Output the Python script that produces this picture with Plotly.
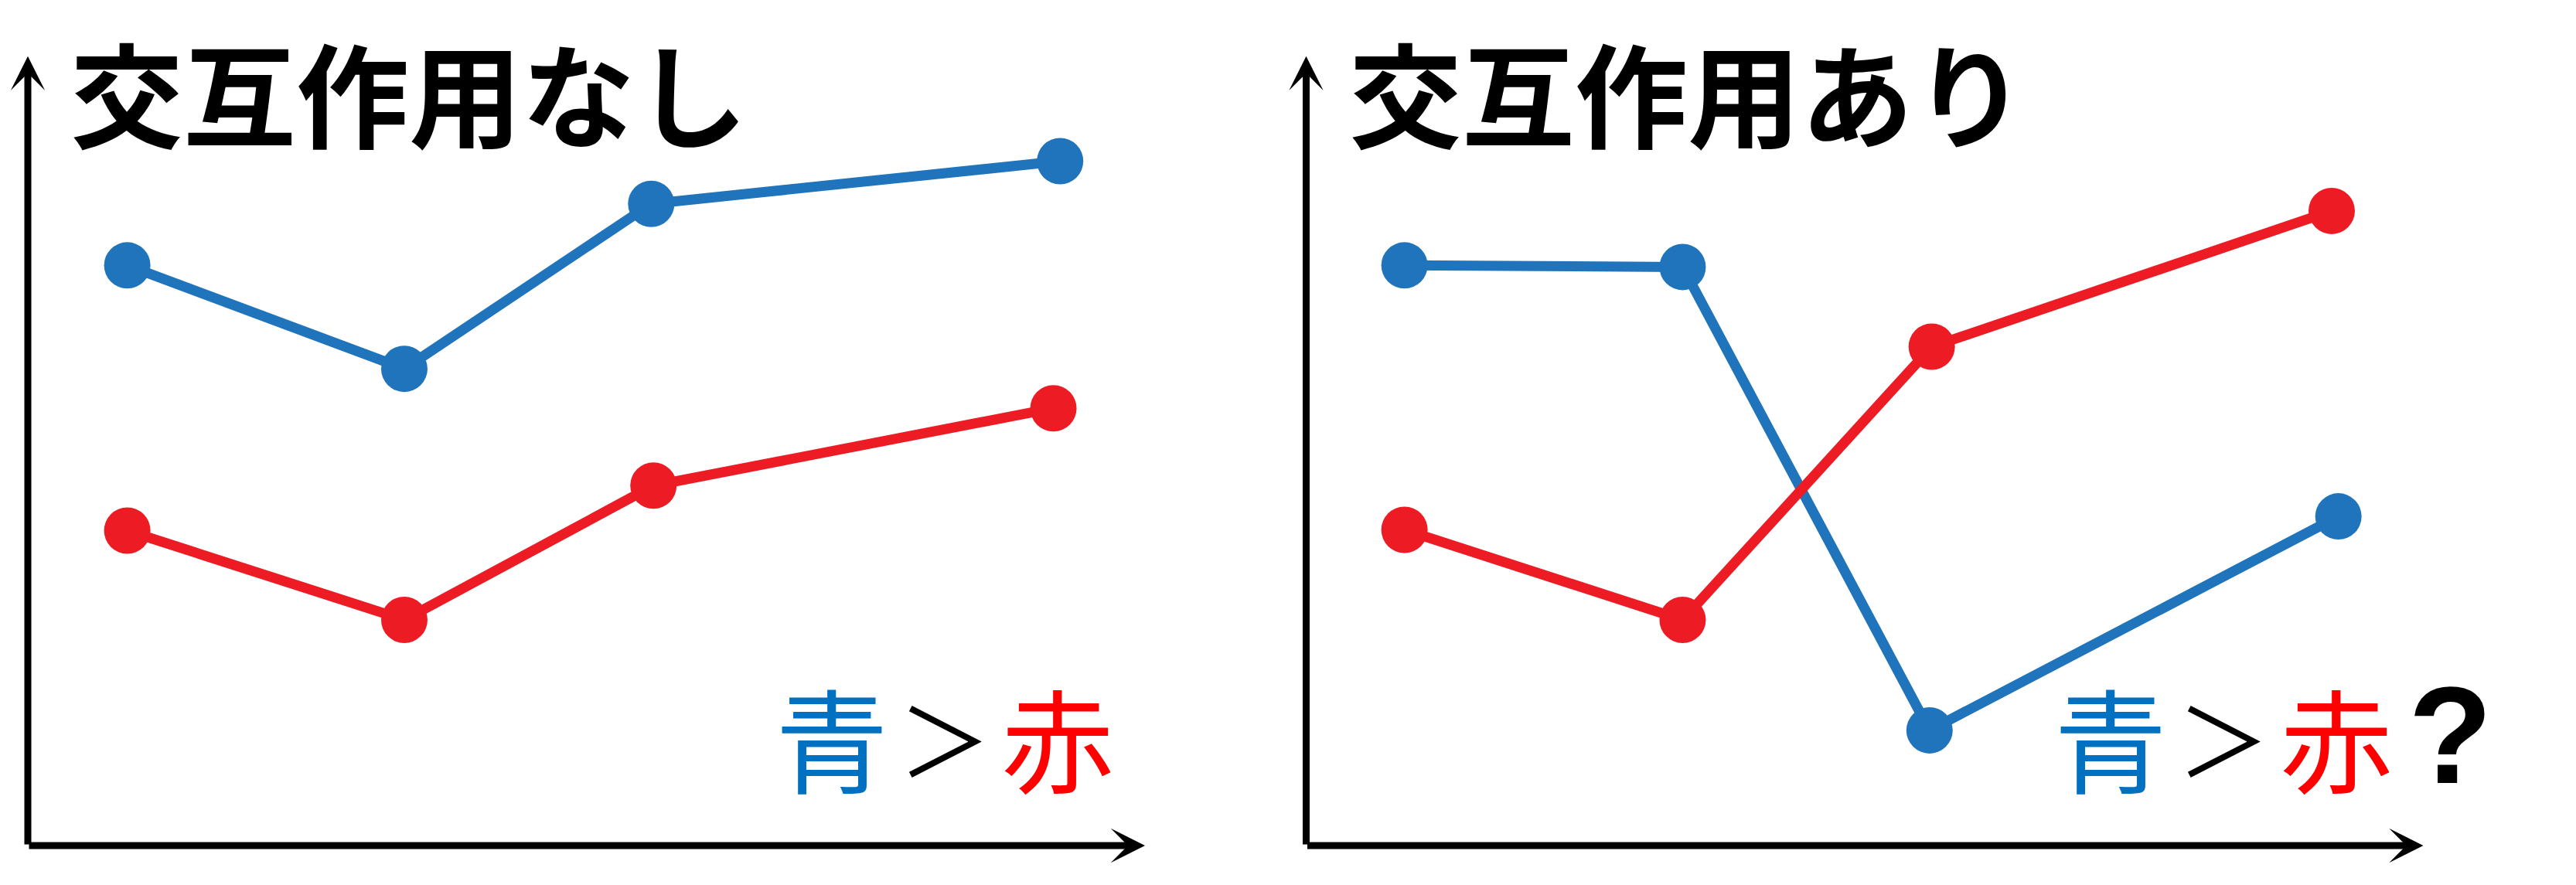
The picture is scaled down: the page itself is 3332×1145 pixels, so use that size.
import plotly.graph_objects as go

# ---- data (abstract units: x 0..10 along the x-axis arrow, y 0..10 along the y-axis arrow)
left_blue_x = [0.89, 3.37, 5.58, 9.24]
left_blue_y = [7.35, 6.04, 8.13, 8.67]
left_red_x = [0.89, 3.37, 5.60, 9.18]
left_red_y = [3.99, 2.86, 4.56, 5.54]

right_blue_x = [0.88, 3.37, 5.58, 9.24]
right_blue_y = [7.35, 7.33, 1.46, 4.17]
right_red_x = [0.88, 3.37, 5.60, 9.18]
right_red_y = [4.00, 2.86, 6.32, 8.04]

titles = ["交互作用なし", "交互作用あり"]
compare_words = ["青", "＞", "赤"]
question_mark = ["", "?"]

BLUE_LINE = "#1f74bc"
RED_LINE = "#ed1c24"
BLUE_TEXT = "#0070c0"
RED_TEXT = "#ff0000"
FONT = "Noto Sans CJK JP"

fig = go.Figure()


def add_series(x, y, color, xa, ya):
    fig.add_trace(go.Scatter(
        x=x, y=y, mode="lines+markers", xaxis=xa, yaxis=ya,
        line=dict(color=color, width=13),
        marker=dict(color=color, size=60, line=dict(width=0)),
        showlegend=False, hoverinfo="skip",
    ))


add_series(left_blue_x, left_blue_y, BLUE_LINE, "x", "y")
add_series(left_red_x, left_red_y, RED_LINE, "x", "y")
add_series(right_blue_x, right_blue_y, BLUE_LINE, "x2", "y2")
add_series(right_red_x, right_red_y, RED_LINE, "x2", "y2")

annotations = []
for i, (xr, yr) in enumerate([("x", "y"), ("x2", "y2")]):
    # axis arrows
    for tip in [(10, 0), (0, 10)]:
        annotations.append(dict(
            x=tip[0], y=tip[1], ax=0, ay=0, xref=xr, yref=yr, axref=xr, ayref=yr,
            text="", showarrow=True, arrowhead=3, arrowsize=0.82, arrowwidth=9,
            arrowcolor="black", standoff=0, startstandoff=0,
        ))
    # title
    annotations.append(dict(
        x=0.37, y=9.57, xref=xr, yref=yr, text=titles[i], showarrow=False,
        xanchor="left", yanchor="middle",
        font=dict(family=FONT, size=146, color="black", weight="bold"),
    ))
    # comparison: 青 ＞ 赤 (?)
    annotations.append(dict(
        x=7.20, y=1.40, xref=xr, yref=yr, text=compare_words[0], showarrow=False,
        xanchor="center", yanchor="middle",
        font=dict(family=FONT, size=146, color=BLUE_TEXT),
    ))
    annotations.append(dict(
        x=8.21, y=1.38, xref=xr, yref=yr, text=compare_words[1], showarrow=False,
        xanchor="center", yanchor="middle",
        font=dict(family=FONT, size=120, color="black"),
    ))
    annotations.append(dict(
        x=9.22, y=1.40, xref=xr, yref=yr, text=compare_words[2], showarrow=False,
        xanchor="center", yanchor="middle",
        font=dict(family=FONT, size=146, color=RED_TEXT),
    ))
    if question_mark[i]:
        annotations.append(dict(
            x=10.24, y=1.40, xref=xr, yref=yr, text=question_mark[i], showarrow=False,
            xanchor="center", yanchor="middle",
            font=dict(family="Liberation Sans", size=178, color="black", weight="bold"),
        ))

axis_common = dict(showgrid=False, zeroline=False, showticklabels=False,
                   showline=False, ticks="", fixedrange=True)

fig.update_layout(
    width=3332, height=1145,
    margin=dict(l=0, r=0, t=0, b=0),
    paper_bgcolor="white", plot_bgcolor="white",
    xaxis=dict(domain=[0, 0.5], range=[-0.2491, 11.280], **axis_common),
    yaxis=dict(domain=[0, 1], range=[-0.4994, 10.712], **axis_common),
    xaxis2=dict(domain=[0.5, 1], range=[-0.1626, 11.367], anchor="y2", **axis_common),
    yaxis2=dict(domain=[0, 1], range=[-0.4994, 10.712], anchor="x2", **axis_common),
    annotations=annotations,
)

fig.write_html("out.html")
